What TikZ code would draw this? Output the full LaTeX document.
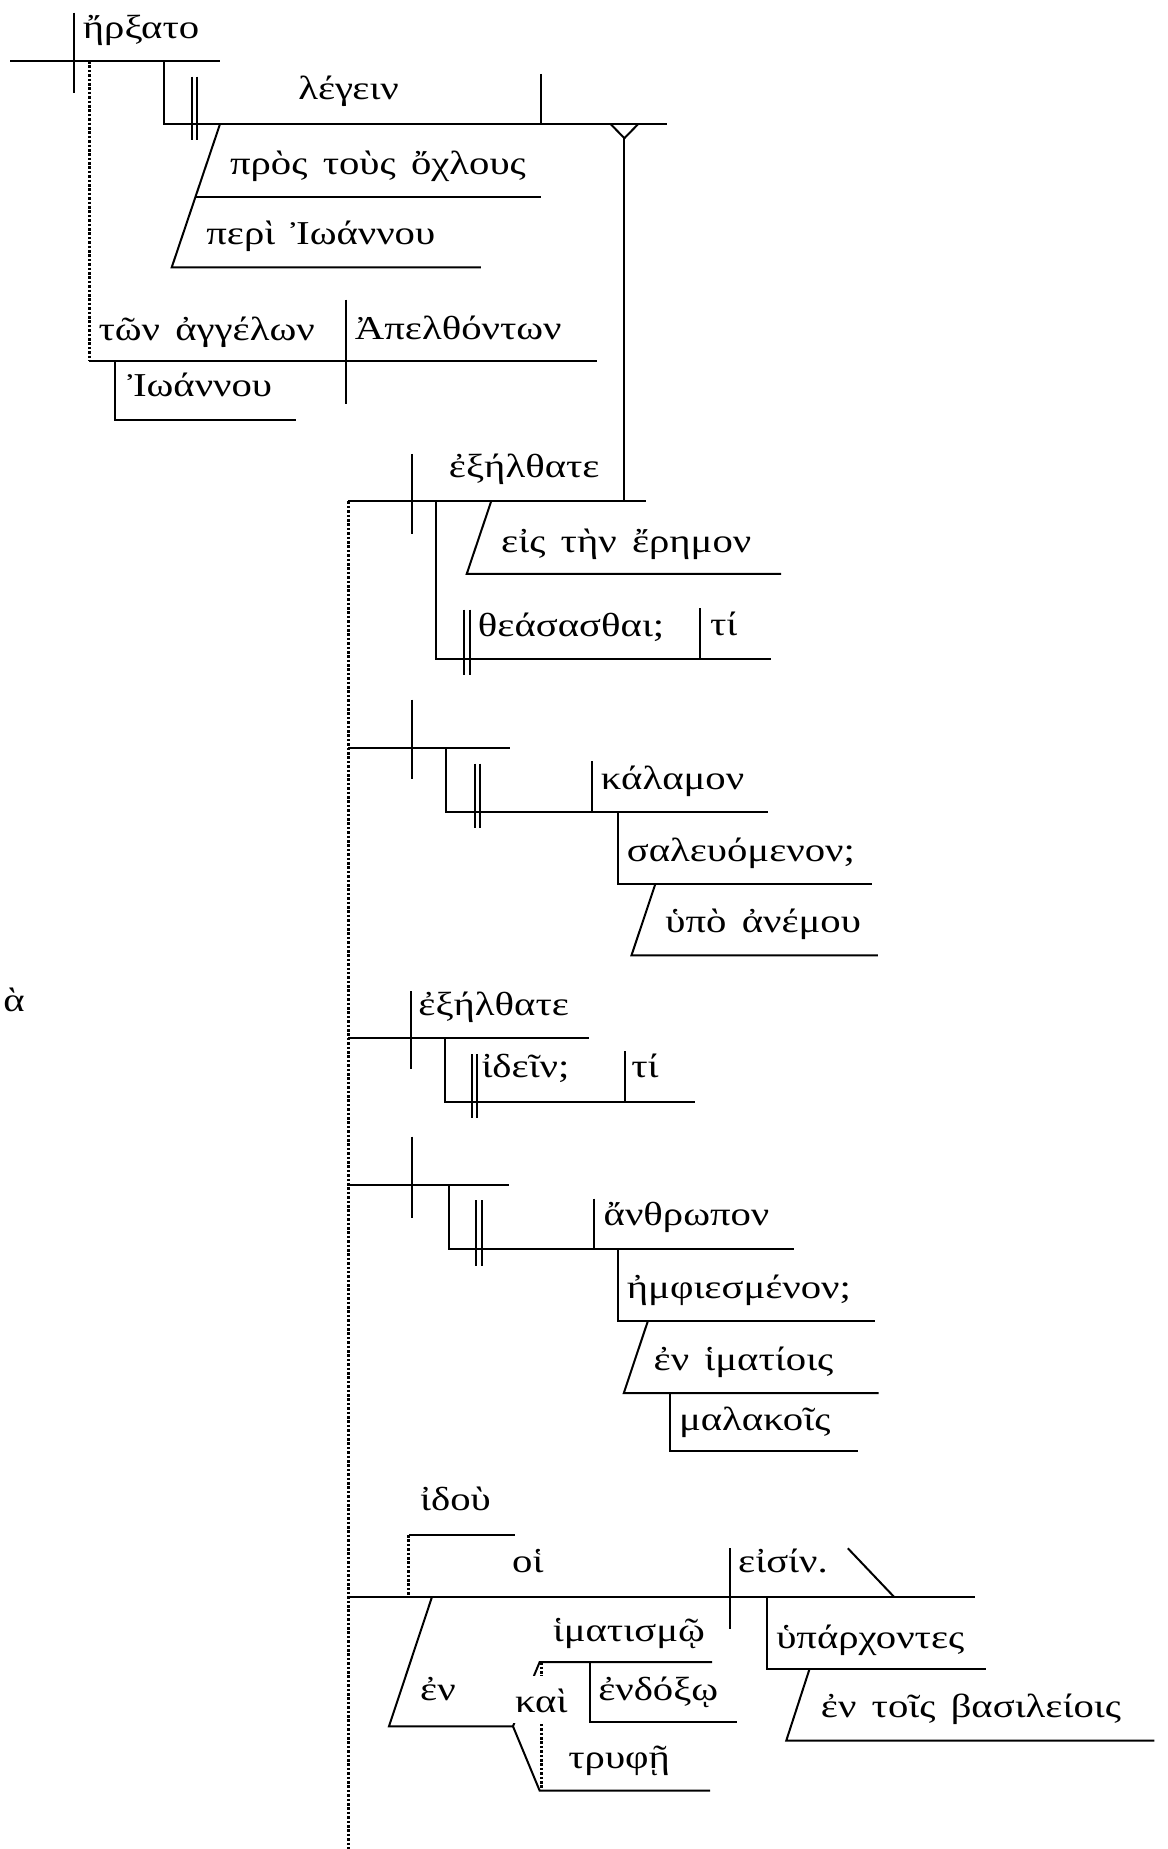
\documentclass[tikz,border=0pt]{standalone}
\usepackage{fontspec}
\setmainfont{Liberation Serif}[FakeStretch=1.22,WordSpace=1.5]
\begin{document}
\begin{tikzpicture}[x=0.59pt,y=-0.59pt,
  ln/.style={line width=1pt},
  dl/.style={line width=1.5pt,dash pattern=on 1.3pt off 0.9pt},
  wd/.style={anchor=base west,inner sep=0pt,font=\fontsize{16.7}{19}\selectfont}]
\useasboundingbox (0,0) rectangle (990,1568);
% ---- section 1
\draw[ln] (8.5,51.7) -- (186.5,51.7);
\draw[ln] (62.7,10.7) -- (62.7,78.5);
\node[wd] (w1) at (70,32.5) {ἤρξατο};
\draw[dl] (75.6,51.7) -- (75.6,306.5);
\draw[ln] (139,51.7) -- (139,105.4) -- (565.5,105.4);
\draw[ln] (162.6,65) -- (162.6,119) (167,65) -- (167,119);
\draw[ln] (458.4,62.7) -- (458.4,105.4);
\node[wd] (w2) at (252.6,84) {λέγειν};
\draw[ln] (518,105.4) -- (529.5,117.2) -- (541,105.4);
\draw[ln] (529.5,117.2) -- (529.5,425.2);
\draw[ln] (186.5,105.4) -- (145.6,226.8) -- (407.7,226.8);
\draw[ln] (165.9,166.7) -- (458.4,166.7);
\node[wd] (w3) at (194.8,148.3) {πρὸς τοὺς ὄχλους};
\node[wd] (w4) at (174.7,207.6) {περὶ Ἰωάννου};
\draw[ln] (75.6,306.5) -- (506,306.5);
\draw[ln] (293.1,254) -- (293.1,343);
\node[wd] (w5) at (83.2,289) {τῶν ἀγγέλων};
\node[wd] (w6) at (300.7,288) {Ἀπελθόντων};
\draw[ln] (97.2,306.5) -- (97.2,356.5) -- (250.8,356.5);
\node[wd] (w7) at (107.8,336.5) {Ἰωάννου};
% ---- main dotted
\draw[dl] (295.5,425.2) -- (295.5,1568);
% ---- section 2
\draw[ln] (295.5,425.2) -- (547.6,425.2);
\draw[ln] (349.3,384.8) -- (349.3,452.8);
\node[wd] (w8) at (380.4,405) {ἐξήλθατε};
\draw[ln] (369.6,425.2) -- (369.6,558.5) -- (654.2,558.5);
\draw[ln] (393.5,517) -- (393.5,572) (398.5,517) -- (398.5,572);
\draw[ln] (593.5,515.6) -- (593.5,558.5);
\node[wd] (w9) at (405,540) {θεάσασθαι;};
\node[wd] (w10) at (601.8,539) {τί};
\draw[ln] (416.5,425.2) -- (395.8,486.7) -- (662.4,486.7);
\node[wd] (w11) at (424.7,468.5) {εἰς τὴν ἔρημον};
% ---- section 3
\draw[ln] (295.5,634.2) -- (432.2,634.2);
\draw[ln] (349.3,593.2) -- (349.3,661);
\draw[ln] (378.1,634.2) -- (378.1,688.4) -- (650.9,688.4);
\draw[ln] (402.4,647.5) -- (402.4,702) (407,647.5) -- (407,702);
\draw[ln] (501.7,645.5) -- (501.7,688.4);
\node[wd] (w12) at (509.3,669.5) {κάλαμον};
\draw[ln] (524,688.4) -- (524,749.5) -- (739.4,749.5);
\node[wd] (w13) at (531.2,730.3) {σαλευόμενον;};
\draw[ln] (555.8,749.5) -- (535.5,810.2) -- (744.4,810.2);
\node[wd] (w14) at (564,791) {ὑπὸ ἀνέμου};
\node[wd] (w15) at (2.5,858) {ὰ};
% ---- section 4
\draw[ln] (295.5,880.5) -- (499.4,880.5);
\draw[ln] (348.3,840.4) -- (348.3,906.8);
\node[wd] (w16) at (354.5,861) {ἐξήλθατε};
\draw[ln] (377.1,880.5) -- (377.1,934.2) -- (589,934.2);
\draw[ln] (400.6,894) -- (400.6,947.7) (404.5,894) -- (404.5,947.7);
\node[wd] (w17) at (408,914) {ἰδεῖν;};
\draw[ln] (529.7,891.3) -- (529.7,934.2);
\node[wd] (w18) at (535,913.5) {τί};
% ---- section 5
\draw[ln] (295.5,1005) -- (432,1005);
\draw[ln] (349.3,963.8) -- (349.3,1032.5);
\draw[ln] (380.4,1005) -- (380.4,1059.3) -- (673.2,1059.3);
\draw[ln] (404,1017.8) -- (404,1073.4) (409,1017.8) -- (409,1073.4);
\draw[ln] (503.4,1016.4) -- (503.4,1059.3);
\node[wd] (w19) at (511.6,1039.5) {ἄνθρωπον};
\draw[ln] (524,1059.3) -- (524,1120.6) -- (741.8,1120.6);
\node[wd] (w20) at (531.3,1101.5) {ἠμφιεσμένον;};
\draw[ln] (549.3,1120.6) -- (529,1181.3) -- (745,1181.3);
\node[wd] (w21) at (554,1162.4) {ἐν ἱματίοις};
\draw[ln] (568.3,1181.3) -- (568.3,1230.8) -- (727.3,1230.8);
\node[wd] (w22) at (575.5,1213) {μαλακοῖς};
% ---- section 6
\draw[ln] (346.7,1301.7) -- (436.4,1301.7);
\draw[dl] (346.7,1301.7) -- (346.7,1354);
\node[wd] (w23) at (356,1281) {ἰδοὺ};
\draw[ln] (295.5,1354) -- (826.6,1354);
\node[wd] (w24) at (434,1333.4) {οἱ};
\draw[ln] (618.7,1313) -- (618.7,1381.4);
\node[wd] (w25) at (625.7,1333.4) {εἰσίν.};
\draw[ln] (719,1313) -- (758,1354);
\draw[ln] (650.5,1354) -- (650.5,1415.3) -- (836,1415.3);
\node[wd] (w26) at (658,1398) {ὑπάρχοντες};
\draw[ln] (686.5,1415.3) -- (666.8,1476) -- (979,1476);
\node[wd] (w27) at (695.8,1456.2) {ἐν τοῖς βασιλείοις};
\draw[ln] (366.4,1354) -- (329.9,1463.9) -- (435,1463.9);
\node[wd] (w28) at (356,1442) {ἐν};
\draw[ln] (435,1463.9) -- (457.6,1518.4) -- (602.3,1518.4);
\draw[ln] (435,1463.9) -- (457.6,1409.6) -- (604,1409.6);
\draw[dl] (459,1409.6) -- (459,1518.4);
\draw[ln] (500,1409.6) -- (500,1459.9) -- (624.8,1459.9);
\node[wd] (w30) at (468.5,1392) {ἱματισμῷ};
\node[wd] (w31) at (507,1442) {ἐνδόξῳ};
\node[wd] (w32) at (481.6,1500) {τρυφῇ};
\fill[white] (432,1421) rectangle (490,1461);
\node[wd] (w29) at (436.4,1452.5) {καὶ};
\end{tikzpicture}
\end{document}
